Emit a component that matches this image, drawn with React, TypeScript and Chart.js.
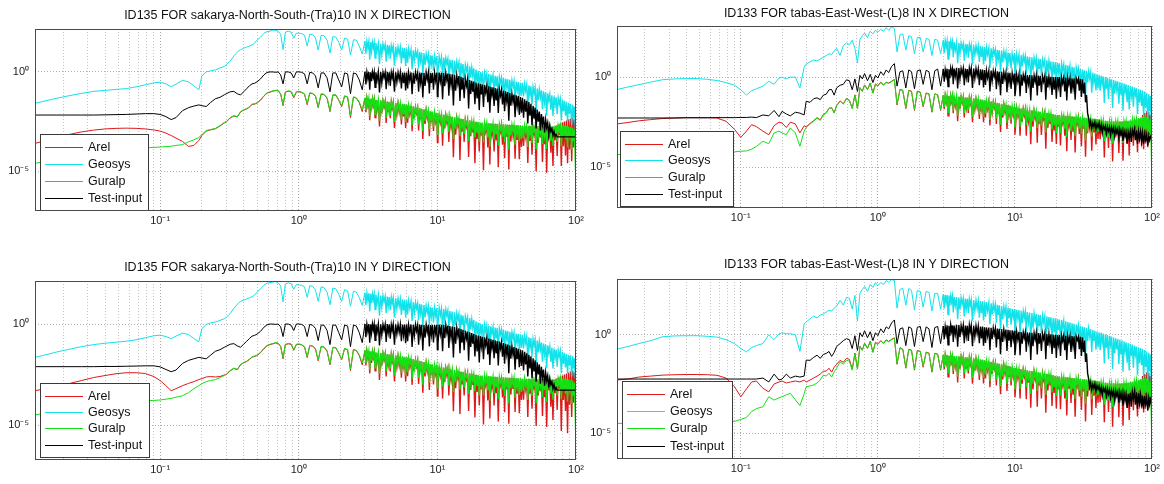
import React, { useEffect, useRef } from 'react';
import { Chart, registerables } from 'chart.js';

Chart.register(...registerables);

// ---------- shared frequency axis (Hz) ----------
const freqHz = [
  // A
  0.0125, 0.015, 0.018, 0.022, 0.027, 0.033, 0.04, 0.048, 0.057, 0.067, 0.078, 0.09, 0.1, 0.11, 0.12, 0.13, 0.145, 0.16, 0.175, 0.19, 0.2, 0.215, 0.23, 0.25, 0.27, 0.29,
  // B
  0.3, 0.32, 0.34, 0.36, 0.38, 0.4, 0.42, 0.44, 0.46, 0.48, 0.5, 0.53, 0.56, 0.59, 0.62, 0.65, 0.68, 0.71, 0.74, 0.77, 0.8, 0.84, 0.88, 0.92, 0.96, 1.0,
  // C
  1.05, 1.1, 1.15, 1.2, 1.26, 1.32, 1.38, 1.45, 1.52, 1.6, 1.68, 1.76, 1.85, 1.94, 2.04, 2.14, 2.25, 2.36, 2.48, 2.6, 2.73, 2.87,
  // D
  3.0, 3.05, 3.1, 3.15, 3.2, 3.25, 3.3, 3.35, 3.4, 3.45, 3.5, 3.55, 3.6, 3.67, 3.75, 3.82, 3.9, 3.97, 4.05, 4.12,
  4.2, 4.27, 4.35, 4.42, 4.5, 4.57, 4.65, 4.72, 4.8, 4.9, 5.0, 5.1, 5.2, 5.3, 5.4, 5.5, 5.6, 5.7, 5.8, 5.9,
  // E
  6.0, 6.1, 6.2, 6.32, 6.45, 6.57, 6.7, 6.82, 6.95, 7.07, 7.2, 7.32, 7.45, 7.57, 7.7,
  7.85, 8.0, 8.15, 8.3, 8.45, 8.6, 8.75, 8.9, 9.05, 9.2, 9.37, 9.55, 9.72, 9.9, 10.0,
  // F
  10.1, 10.3, 10.5, 10.7, 10.9, 11.1, 11.3, 11.5, 11.7, 11.9, 12.1, 12.3, 12.55, 12.8, 13.05, 13.3, 13.55, 13.8, 14.05, 14.3,
  14.55, 14.8, 15.05, 15.3, 15.6, 15.9, 16.2, 16.5, 16.8, 17.1, 17.4, 17.7, 18.0, 18.3, 18.65, 19.0, 19.35, 19.7, 20.05, 20.4,
  // G
  20.75, 21.1, 21.5, 21.9, 22.3, 22.7, 23.1, 23.5, 23.9, 24.3, 24.75, 25.2, 25.65, 26.1, 26.55, 27.0, 27.5, 28.0, 28.5, 29.0,
  29.5, 30.0, 30.55, 31.1, 31.65, 32.2, 32.75, 33.3, 33.9, 34.5, 35.1, 35.7, 36.35, 37.0, 37.65, 38.3, 39.0, 39.7, 40.4, 41.1,
  // H
  41.85, 42.6, 43.35, 44.1, 44.9, 45.7, 46.5, 47.3, 48.15, 49.0, 49.85, 50.7, 51.6, 52.5, 53.45, 54.4, 55.35, 56.3, 57.3, 58.3,
  59.35, 60.4, 61.45, 62.5, 63.6, 64.7, 65.85, 67.0, 68.2, 69.4, 70.65, 71.9, 73.15, 74.4, 75.7, 77.0, 78.35, 79.7, 81.1, 82.5,
  // I
  84.0, 85.4, 86.9, 88.4, 89.9, 91.5, 93.1, 94.7, 96.1, 97.5, 98.8, 100,
];

// ---------- series: log10 of spectral amplitude, one value per frequency ----------
// sakarya, X direction
const sakXArel = [
  -3.6, -3.45, -3.3, -3.15, -3.02, -2.93, -2.87, -2.84, -2.83, -2.84, -2.87, -2.92, -2.98, -3.08, -3.2, -3.33, -3.5, -3.75, -3.7, -3.45, -3.2, -2.98, -2.92, -2.86, -2.72, -2.57,
  -2.52, -2.32, -2.22, -2.27, -2.02, -1.92, -1.87, -1.77, -1.64, -1.62, -1.57, -1.42, -1.22, -1.07, -1.02, -0.97, -0.94, -0.95, -1.12, -1.7, -1.02, -0.97, -1.0, -1.3, -1.02, -0.99,
  -1.04, -1.12, -1.65, -1.07, -1.1, -1.22, -1.8, -1.12, -1.14, -1.32, -2.0, -1.17, -1.17, -1.42, -1.75, -1.22, -1.27, -2.3, -1.27, -1.32, -1.55, -2.0,
  -1.32, -2.03, -1.34, -1.69, -1.35, -2.43, -1.37, -1.9, -1.38, -1.68, -1.4, -2.3, -1.42, -1.91, -1.43, -2.75, -1.45, -2.07, -1.47, -1.77,
  -1.48, -2.57, -1.5, -2.03, -1.52, -2.33, -1.53, -1.83, -1.55, -2.82, -1.57, -2.15, -1.59, -2.03, -1.6, -2.64, -1.62, -2.24, -1.64, -2.82,
  -1.66, -2.56, -1.69, -2.13, -1.72, -2.99, -1.75, -2.33, -1.78, -2.08, -1.81, -2.95, -1.84, -2.37, -1.87,
  -3.38, -1.9, -2.62, -1.93, -2.33, -1.96, -3.24, -1.99, -2.52, -2.02, -2.97, -2.05, -2.49, -2.08, -3.54,
  -3.12, -2.12, -2.54, -2.14, -3.71, -2.17, -2.85, -2.19, -2.54, -2.22, -3.52, -2.24, -2.8, -2.27, -4.29, -2.29, -3.16, -2.32, -2.7, -2.34,
  -4.43, -2.37, -3.01, -2.39, -3.52, -2.42, -2.76, -2.44, -4.28, -2.46, -3.24, -2.48, -3.04, -2.5, -4.6, -2.52, -3.38, -2.54, -4.01, -2.57,
  -3.2, -2.57, -4.95, -2.58, -2.99, -2.59, -3.8, -2.6, -4.66, -2.61, -3.16, -2.62, -4.01, -2.62, -3.45, -2.63, -4.8, -2.64, -3.0, -2.65,
  -3.66, -2.65, -4.34, -2.66, -3.26, -2.67, -4.91, -2.67, -3.5, -2.68, -3.19, -2.69, -4.37, -2.7, -3.43, -2.7, -4.4, -2.71, -3.78, -2.72,
  -3.73, -2.72, -3.23, -2.73, -4.58, -2.72, -3.47, -2.74, -4.17, -2.73, -3.09, -2.74, -5.0, -2.75, -3.56, -2.74, -3.3, -2.76, -4.53, -2.75,
  -3.64, -2.76, -5.08, -2.77, -3.26, -2.76, -4.07, -2.77, -4.73, -2.76, -3.44, -2.7, -4.23, -2.65, -3.18, -2.6, -4.74, -2.55, -3.74, -2.5,
  -4.2, -2.45, -4.6, -2.4, -3.9, -2.35, -4.5, -2.3, -3.8, -2.4, -3.4, -2.9,
];
const sakXGeosys = [
  -1.58, -1.45, -1.32, -1.2, -1.08, -0.98, -0.93, -0.88, -0.84, -0.75, -0.65, -0.55, -0.52, -0.6, -0.74, -0.62, -0.42, -0.5, -0.7, -0.9, -0.2, 0.0, 0.05, 0.1, 0.2, 0.27,
  0.35, 0.55, 0.8, 1.0, 1.12, 1.19, 1.25, 1.3, 1.36, 1.45, 1.6, 1.75, 1.94, 2.03, 2.05, 2.1, 2.1, 2.05, 1.9, 1.12, 2.0, 2.05, 2.0, 1.7, 1.95, 1.95,
  1.93, 1.85, 1.3, 1.9, 1.88, 1.7, 1.1, 1.85, 1.82, 1.6, 0.95, 1.78, 1.75, 1.5, 1.1, 1.7, 1.65, 0.85, 1.62, 1.6, 1.3, 0.9,
  1.55, 0.92, 1.54, 1.22, 1.52, 0.62, 1.5, 1.05, 1.49, 1.22, 1.47, 0.7, 1.45, 1.04, 1.43, 0.39, 1.42, 0.88, 1.4, 1.13,
  1.38, 0.52, 1.36, 0.91, 1.34, 0.66, 1.32, 1.05, 1.3, 0.31, 1.28, 0.78, 1.26, 0.9, 1.24, 0.43, 1.22, 0.68, 1.2, 0.3,
  1.18, 0.46, 1.15, 0.79, 1.12, 0.13, 1.09, 0.59, 1.06, 0.79, 1.03, 0.17, 1.0, 0.55, 0.97,
  -0.16, 0.94, 0.35, 0.91, 0.59, 0.88, -0.07, 0.85, 0.4, 0.82, 0.05, 0.8, 0.44, 0.78, -0.3,
  0.01, 0.78, 0.41, 0.75, -0.3, 0.72, 0.19, 0.7, 0.4, 0.66, -0.23, 0.62, 0.17, 0.6, -0.63, 0.56, -0.08, 0.52, 0.18, 0.48,
  -0.49, 0.45, -0.07, 0.4, -0.41, 0.36, 0.06, 0.32, -0.82, 0.28, -0.29, 0.22, -0.2, 0.18, -0.73, 0.12, -0.54, 0.06, -1.02, 0.0,
  -0.45, -0.02, -0.99, -0.05, -0.38, -0.08, -0.78, -0.1, -1.23, -0.13, -0.5, -0.16, -0.96, -0.19, -0.73, -0.22, -1.27, -0.25, -0.54, -0.28,
  -0.91, -0.31, -1.19, -0.34, -0.75, -0.37, -1.59, -0.4, -0.94, -0.43, -0.76, -0.46, -1.43, -0.49, -0.94, -0.51, -1.3, -0.53, -1.19, -0.55,
  -1.23, -0.6, -0.96, -0.64, -1.76, -0.68, -1.17, -0.72, -1.62, -0.76, -1.07, -0.8, -2.01, -0.84, -1.42, -0.88, -1.29, -0.93, -1.88, -0.98,
  -1.53, -1.03, -2.21, -1.08, -1.45, -1.13, -1.9, -1.18, -2.22, -1.23, -1.69, -1.28, -2.13, -1.32, -1.63, -1.36, -2.44, -1.4, -1.99, -1.45,
  -2.2, -1.5, -2.5, -1.55, -2.1, -1.6, -2.7, -1.65, -2.3, -1.75, -2.8, -3.1,
];
const sakXGuralp = [
  -4.6, -4.5, -4.4, -4.3, -4.2, -4.1, -4.0, -3.95, -3.9, -3.85, -3.82, -3.8, -3.78, -3.76, -3.74, -3.7, -3.66, -3.52, -3.42, -3.3, -3.15, -2.95, -2.9, -2.85, -2.7, -2.55,
  -2.5, -2.3, -2.2, -2.25, -2.0, -1.9, -1.85, -1.75, -1.62, -1.6, -1.55, -1.4, -1.2, -1.05, -1.0, -0.95, -0.92, -0.93, -1.1, -1.65, -1.0, -0.95, -0.98, -1.25, -1.0, -0.97,
  -1.02, -1.1, -1.6, -1.05, -1.08, -1.2, -1.75, -1.1, -1.12, -1.3, -1.95, -1.15, -1.15, -1.4, -1.7, -1.2, -1.25, -2.2, -1.25, -1.3, -1.5, -1.9,
  -1.3, -1.93, -1.32, -1.64, -1.33, -2.23, -1.35, -1.8, -1.36, -1.63, -1.38, -2.15, -1.4, -1.81, -1.41, -2.45, -1.43, -1.97, -1.45, -1.72,
  -1.46, -2.32, -1.48, -1.93, -1.5, -2.18, -1.51, -1.78, -1.53, -2.52, -1.55, -2.05, -1.57, -1.93, -1.58, -2.39, -1.6, -2.14, -1.62, -2.52,
  -1.64, -2.36, -1.67, -2.03, -1.7, -2.69, -1.73, -2.23, -1.76, -2.03, -1.79, -2.65, -1.82, -2.27, -1.85,
  -2.98, -1.88, -2.47, -1.91, -2.23, -1.94, -2.89, -1.97, -2.42, -2.0, -2.77, -2.03, -2.39, -2.06, -3.14,
  -2.82, -2.1, -2.44, -2.12, -3.11, -2.15, -2.65, -2.17, -2.44, -2.2, -3.02, -2.22, -2.65, -2.25, -3.39, -2.27, -2.86, -2.3, -2.6, -2.32,
  -3.23, -2.35, -2.81, -2.37, -3.12, -2.4, -2.66, -2.42, -3.48, -2.44, -2.94, -2.46, -2.84, -2.48, -3.3, -2.5, -3.08, -2.52, -3.51, -2.55,
  -3.0, -2.55, -3.55, -2.56, -2.89, -2.57, -3.3, -2.58, -3.76, -2.59, -2.96, -2.6, -3.41, -2.6, -3.15, -2.61, -3.7, -2.62, -2.9, -2.63,
  -3.26, -2.63, -3.54, -2.64, -3.06, -2.65, -3.91, -2.65, -3.2, -2.66, -2.99, -2.67, -3.67, -2.68, -3.13, -2.68, -3.5, -2.69, -3.38, -2.7,
  -3.33, -2.7, -3.03, -2.71, -3.78, -2.7, -3.17, -2.72, -3.57, -2.71, -2.99, -2.72, -3.9, -2.73, -3.26, -2.72, -3.1, -2.74, -3.63, -2.73,
  -3.24, -2.74, -3.88, -2.75, -3.06, -2.74, -3.47, -2.75, -3.73, -2.74, -3.14, -2.73, -3.53, -2.72, -2.98, -2.71, -3.74, -2.7, -3.24, -2.7,
  -3.4, -2.72, -3.8, -2.75, -3.2, -2.78, -3.9, -2.8, -3.5, -2.9, -4.4, -5.7,
];
const sakXTest = [
  -2.17, -2.17, -2.17, -2.17, -2.17, -2.17, -2.16, -2.15, -2.14, -2.12, -2.1, -2.1, -2.14, -2.25, -2.4, -2.3, -1.95, -1.8, -1.72, -1.66, -1.7, -1.74, -1.55, -1.35, -1.28, -1.15,
  -1.1, -1.0, -0.98, -1.1, -1.16, -1.0, -0.85, -0.7, -0.6, -0.57, -0.5, -0.35, -0.15, -0.03, 0.0, 0.0, -0.02, 0.0, -0.15, -0.6, 0.0, 0.0, -0.05, -0.3, 0.0, 0.0,
  -0.02, -0.1, -0.6, -0.02, -0.05, -0.2, -0.8, -0.05, -0.05, -0.3, -1.0, -0.05, -0.05, -0.4, -0.75, -0.05, -0.1, -1.1, -0.05, -0.1, -0.4, -0.9,
  0.0, -0.63, -0.01, -0.33, 0.0, -0.9, -0.02, -0.47, 0.0, -0.27, -0.01, -0.78, -0.02, -0.43, 0.0, -1.04, -0.01, -0.55, -0.02, -0.29,
  -0.01, -0.87, 0.0, -0.45, -0.02, -0.7, -0.03, -0.3, -0.01, -1.0, -0.02, -0.52, -0.03, -0.39, -0.02, -0.83, -0.03, -0.57, -0.03, -0.93,
  -0.03, -0.83, -0.04, -0.44, -0.02, -1.12, -0.04, -0.59, -0.03, -0.33, -0.05, -1.0, -0.03, -0.53, -0.04,
  -1.29, -0.05, -0.7, -0.03, -0.38, -0.04, -1.09, -0.05, -0.55, -0.04, -0.89, -0.05, -0.45, -0.04, -1.24,
  -1.02, -0.03, -0.48, -0.04, -1.37, -0.05, -0.72, -0.06, -0.41, -0.08, -1.2, -0.1, -0.67, -0.12, -1.69, -0.15, -0.95, -0.18, -0.6, -0.21,
  -1.46, -0.25, -0.9, -0.29, -1.32, -0.33, -0.7, -0.37, -1.84, -0.41, -1.11, -0.45, -0.99, -0.49, -1.63, -0.53, -1.34, -0.57, -1.92, -0.6,
  -1.13, -0.63, -1.76, -0.66, -1.04, -0.69, -1.52, -0.72, -2.05, -0.75, -1.18, -0.78, -1.71, -0.81, -1.44, -0.84, -2.07, -0.87, -1.2, -0.9,
  -1.64, -0.94, -1.98, -0.98, -1.47, -1.02, -2.46, -1.06, -1.7, -1.1, -1.49, -1.14, -2.28, -1.18, -1.72, -1.22, -2.16, -1.26, -2.05, -1.3,
  -2.3, -1.38, -2.0, -1.45, -2.6, -1.52, -2.2, -1.6, -2.7, -1.7, -2.35, -1.8, -2.85, -1.9, -2.5, -2.0, -2.95, -2.12, -2.65, -2.25,
  -3.05, -2.4, -2.8, -2.55, -3.15, -2.7, -3.0, -2.85, -3.2, -3.0, -3.25, -3.15, -3.27, -3.27, -3.27, -3.27, -3.27, -3.27, -3.27, -3.27,
  -3.27, -3.27, -3.27, -3.27, -3.27, -3.27, -3.27, -3.27, -3.27, -3.27, -3.27, -3.27,
];

// tabas, X direction
const tabXArel = [
  -2.6, -2.52, -2.43, -2.36, -2.3, -2.27, -2.25, -2.25, -2.25, -2.27, -2.45, -2.9, -3.35, -3.0, -2.64, -2.75, -3.0, -3.2, -2.7, -2.5, -2.55, -2.8, -2.5, -2.6, -3.1, -2.7,
  -2.77, -2.57, -2.42, -2.25, -2.37, -2.08, -1.98, -1.73, -1.7, -1.98, -1.58, -1.32, -1.48, -1.18, -1.28, -1.73, -0.98, -1.73, -0.58, -0.78, -0.43, -0.68, -0.33, -0.88, -0.38, -0.48,
  -0.28, -0.43, -0.28, -0.33, -0.23, -0.13, -1.55, -0.68, -0.73, -1.75, -0.73, -0.78, -1.85, -0.78, -0.83, -1.65, -0.88, -0.93, -1.95, -0.93, -0.98, -1.85,
  -1.02, -1.77, -1.04, -1.4, -1.02, -2.15, -1.06, -1.62, -1.05, -1.37, -1.07, -2.01, -1.09, -1.6, -1.08, -2.45, -1.1, -1.75, -1.12, -1.44,
  -1.11, -2.24, -1.14, -1.7, -1.15, -1.99, -1.17, -1.49, -1.18, -2.51, -1.2, -1.8, -1.22, -1.68, -1.23, -2.32, -1.25, -1.9, -1.27, -2.5,
  -1.3, -2.24, -1.32, -1.78, -1.35, -2.68, -1.37, -1.97, -1.4, -1.72, -1.42, -2.6, -1.45, -2.01, -1.47,
  -3.04, -1.5, -2.25, -1.52, -1.93, -1.55, -2.88, -1.57, -2.13, -1.6, -2.59, -1.64, -2.1, -1.68, -3.2,
  -2.77, -1.72, -2.16, -1.74, -3.26, -1.76, -2.47, -1.78, -2.14, -1.8, -3.25, -1.82, -2.45, -1.84, -3.73, -1.86, -2.76, -1.88, -2.28, -1.9,
  -3.64, -1.92, -2.59, -1.94, -3.21, -1.96, -2.32, -1.98, -3.98, -2.0, -2.81, -2.02, -2.6, -2.04, -3.6, -2.07, -2.98, -2.1, -3.72, -2.12,
  -2.75, -2.12, -3.8, -2.13, -2.55, -2.15, -3.26, -2.16, -4.12, -2.17, -2.72, -2.18, -3.49, -2.2, -3.03, -2.21, -4.18, -2.22, -2.58, -2.23,
  -3.16, -2.25, -3.84, -2.26, -2.86, -2.27, -4.42, -2.28, -3.12, -2.3, -2.81, -2.31, -4.09, -2.32, -3.07, -2.34, -3.74, -2.35, -3.43, -2.37,
  -3.45, -2.4, -2.93, -2.42, -4.46, -2.44, -3.21, -2.45, -3.94, -2.46, -2.84, -2.47, -4.69, -2.47, -3.33, -2.48, -3.04, -2.48, -4.21, -2.48,
  -3.27, -2.47, -4.64, -2.47, -2.97, -2.46, -3.68, -2.44, -4.35, -2.42, -3.11, -2.4, -3.81, -2.37, -2.81, -2.34, -4.17, -2.3, -3.22, -2.27,
  -3.8, -2.1, -4.0, -2.0, -3.6, -1.9, -3.9, -1.95, -3.2, -2.1, -3.0, -2.6,
];
const tabXGeosys = [
  -0.69, -0.55, -0.42, -0.28, -0.14, -0.1, -0.08, -0.08, -0.12, -0.19, -0.3, -0.45, -0.7, -1.0, -0.75, -0.65, -0.5, -0.23, -0.4, -0.05, 0.0, -0.1, 0.0, 0.0, -0.6, 0.55,
  0.72, 0.85, 0.95, 0.9, 1.0, 1.1, 1.2, 1.3, 1.25, 1.45, 1.6, 1.2, 1.75, 1.9, 1.8, 2.05, 1.6, 0.8, 2.1, 2.3, 2.45, 2.2, 2.55, 2.4, 2.6, 2.5,
  2.65, 2.55, 2.75, 2.6, 2.8, 2.7, 1.4, 2.35, 2.4, 1.5, 2.3, 2.25, 1.3, 2.2, 2.2, 1.4, 2.15, 2.1, 1.2, 2.1, 2.05, 1.3,
  2.05, 1.35, 2.03, 1.68, 2.01, 1.01, 2.0, 1.5, 1.98, 1.68, 1.96, 1.11, 1.94, 1.49, 1.92, 0.77, 1.9, 1.3, 1.88, 1.58,
  1.86, 0.91, 1.85, 1.35, 1.83, 1.08, 1.81, 1.51, 1.79, 0.69, 1.77, 1.22, 1.75, 1.35, 1.74, 0.84, 1.72, 1.12, 1.7, 0.7,
  1.68, 0.88, 1.65, 1.25, 1.62, 0.52, 1.6, 1.05, 1.57, 1.27, 1.54, 0.59, 1.52, 1.02, 1.49,
  0.24, 1.46, 0.81, 1.43, 1.08, 1.4, 0.35, 1.37, 0.87, 1.34, 0.49, 1.31, 0.91, 1.28, 0.08,
  0.37, 1.27, 0.85, 1.25, 0.02, 1.22, 0.6, 1.2, 0.88, 1.18, 0.15, 1.15, 0.63, 1.13, -0.3, 1.1, 0.38, 1.08, 0.7, 1.05,
  -0.07, 1.03, 0.45, 1.0, 0.08, 0.98, 0.65, 0.95, -0.37, 0.93, 0.3, 0.9, 0.43, 0.88, -0.15, 0.85, 0.13, 0.83, -0.4, 0.8,
  0.27, 0.77, -0.36, 0.74, 0.36, 0.71, -0.12, 0.68, -0.65, 0.65, 0.22, 0.62, -0.32, 0.58, -0.05, 0.55, -0.68, 0.52, 0.18, 0.48,
  -0.25, 0.45, -0.58, 0.42, -0.07, 0.38, -1.05, 0.35, -0.29, 0.31, -0.07, 0.28, -0.86, 0.24, -0.3, 0.2, -0.74, 0.16, -0.63, 0.12,
  -0.76, 0.08, -0.38, 0.04, -1.44, 0.0, -0.64, -0.04, -1.22, -0.08, -0.48, -0.12, -1.72, -0.16, -0.92, -0.2, -0.72, -0.24, -1.48, -0.28,
  -0.98, -0.32, -1.86, -0.36, -0.82, -0.4, -1.4, -0.44, -1.8, -0.48, -1.06, -0.52, -1.65, -0.57, -0.98, -0.62, -2.04, -0.66, -1.42, -0.7,
  -1.6, -0.75, -2.2, -0.8, -1.7, -0.88, -2.4, -0.95, -1.9, -1.05, -2.55, -1.2,
];
const tabXGuralp = [
  -4.3, -4.3, -4.3, -4.3, -4.3, -4.3, -4.3, -4.3, -4.3, -4.25, -4.2, -4.15, -4.12, -4.1, -4.0, -3.85, -3.56, -3.7, -3.1, -3.0, -3.1, -3.2, -2.82, -3.1, -3.84, -3.0,
  -2.8, -2.6, -2.45, -2.27, -2.4, -2.1, -2.0, -1.75, -1.71, -2.0, -1.6, -1.34, -1.5, -1.2, -1.3, -1.75, -1.0, -1.75, -0.6, -0.8, -0.45, -0.7, -0.35, -0.9, -0.4, -0.5,
  -0.3, -0.45, -0.3, -0.35, -0.25, -0.15, -1.5, -0.7, -0.75, -1.7, -0.75, -0.8, -1.8, -0.8, -0.85, -1.6, -0.9, -0.95, -1.9, -0.95, -1.0, -1.8,
  -1.0, -1.67, -1.02, -1.35, -1.0, -1.95, -1.04, -1.52, -1.03, -1.32, -1.05, -1.86, -1.07, -1.5, -1.06, -2.15, -1.08, -1.65, -1.1, -1.39,
  -1.09, -1.99, -1.12, -1.6, -1.13, -1.84, -1.15, -1.44, -1.16, -2.21, -1.18, -1.7, -1.2, -1.58, -1.21, -2.07, -1.23, -1.8, -1.25, -2.2,
  -1.28, -2.04, -1.3, -1.68, -1.33, -2.38, -1.35, -1.87, -1.38, -1.67, -1.4, -2.3, -1.43, -1.91, -1.45,
  -2.64, -1.48, -2.1, -1.5, -1.83, -1.53, -2.53, -1.55, -2.03, -1.58, -2.39, -1.62, -2.0, -1.66, -2.8,
  -2.47, -1.7, -2.06, -1.72, -2.76, -1.74, -2.27, -1.76, -2.04, -1.78, -2.65, -1.8, -2.25, -1.82, -3.03, -1.84, -2.46, -1.86, -2.18, -1.88,
  -2.84, -1.9, -2.39, -1.92, -2.71, -1.94, -2.22, -1.96, -3.08, -1.98, -2.51, -2.0, -2.4, -2.02, -2.9, -2.05, -2.68, -2.08, -3.12, -2.1,
  -2.55, -2.1, -3.1, -2.11, -2.45, -2.13, -2.86, -2.14, -3.32, -2.15, -2.52, -2.16, -2.99, -2.18, -2.73, -2.19, -3.28, -2.2, -2.48, -2.21,
  -2.86, -2.23, -3.14, -2.24, -2.66, -2.25, -3.52, -2.26, -2.82, -2.28, -2.61, -2.29, -3.29, -2.3, -2.77, -2.32, -3.14, -2.33, -3.03, -2.35,
  -3.05, -2.38, -2.73, -2.4, -3.56, -2.42, -2.91, -2.43, -3.34, -2.44, -2.74, -2.45, -3.69, -2.45, -3.03, -2.46, -2.84, -2.46, -3.41, -2.46,
  -2.97, -2.45, -3.64, -2.45, -2.77, -2.44, -3.18, -2.42, -3.45, -2.4, -2.81, -2.38, -3.21, -2.35, -2.61, -2.32, -3.37, -2.28, -2.82, -2.25,
  -3.0, -2.2, -3.3, -2.18, -2.9, -2.2, -3.4, -2.25, -3.1, -2.35, -3.8, -5.8,
];
const tabXTest = [
  -2.27, -2.27, -2.27, -2.27, -2.27, -2.27, -2.26, -2.26, -2.26, -2.25, -2.25, -2.25, -2.24, -2.24, -2.22, -2.25, -2.1, -2.15, -1.85, -2.2, -1.9, -2.05, -2.15, -1.95, -2.0, -2.1,
  -1.34, -1.4, -1.2, -1.15, -1.25, -1.0, -0.95, -0.7, -0.69, -1.0, -0.6, -0.45, -0.4, -0.15, -0.2, -0.7, -0.1, -0.8, 0.1, -0.1, 0.2, -0.2, 0.15, -0.3, 0.1, -0.05,
  0.3, 0.1, 0.4, 0.25, 0.6, 0.75, -0.5, 0.3, 0.35, -0.6, 0.4, 0.3, -0.65, 0.35, 0.4, -0.4, 0.38, 0.3, -0.7, 0.35, 0.45, -0.5,
  0.45, -0.25, 0.42, 0.07, 0.47, -0.53, 0.44, -0.06, 0.5, 0.2, 0.46, -0.39, 0.48, 0.03, 0.52, -0.63, 0.5, -0.1, 0.47, 0.17,
  0.5, -0.45, 0.48, -0.02, 0.45, -0.3, 0.49, 0.19, 0.5, -0.6, 0.47, -0.08, 0.48, 0.08, 0.45, -0.45, 0.43, -0.17, 0.42, -0.58,
  0.4, -0.44, 0.38, -0.04, 0.36, -0.8, 0.37, -0.21, 0.35, 0.03, 0.33, -0.67, 0.32, -0.21, 0.3,
  -1.01, 0.3, -0.38, 0.28, -0.09, 0.26, -0.84, 0.25, -0.28, 0.24, -0.65, 0.22, -0.2, 0.2, -1.06,
  -0.75, 0.15, -0.26, 0.14, -1.06, 0.14, -0.47, 0.13, -0.18, 0.12, -0.88, 0.12, -0.39, 0.11, -1.3, 0.1, -0.6, 0.1, -0.26, 0.09,
  -1.02, 0.08, -0.48, 0.07, -0.84, 0.06, -0.25, 0.05, -1.26, 0.04, -0.57, 0.03, -0.43, 0.02, -0.99, 0.01, -0.7, 0.0, -1.2, 0.0,
  -0.5, 0.0, -1.1, -0.01, -0.35, -0.02, -0.8, -0.03, -1.3, -0.04, -0.4, -0.05, -0.9, -0.06, -0.6, -0.07, -1.25, -0.08, -0.3, -0.09,
  -0.75, -0.1, -1.1, -0.12, -0.9, -0.3, -1.4, -1.0, -2.0, -2.3, -2.7, -2.45, -2.85, -2.55, -2.75, -2.5, -2.9, -2.6, -2.8, -2.55,
  -2.95, -2.65, -3.1, -2.7, -2.9, -2.72, -3.15, -2.75, -3.0, -2.78, -3.25, -2.8, -3.05, -2.82, -3.3, -2.85, -3.1, -2.88, -3.4, -2.9,
  -3.2, -2.95, -3.55, -3.0, -3.3, -3.05, -3.7, -3.05, -3.4, -3.0, -3.6, -2.95, -3.2, -2.9, -3.5, -2.95, -3.7, -3.0, -3.45, -3.05,
  -3.6, -3.1, -3.7, -3.15, -3.5, -3.2, -3.8, -3.25, -3.5, -3.3, -3.4, -3.3,
];

// sakarya, Y direction
const sakYArel = [
  -3.3, -3.2, -3.1, -2.95, -2.8, -2.65, -2.55, -2.46, -2.41, -2.41, -2.45, -2.6, -2.8, -3.05, -3.3, -3.2, -3.05, -2.94, -2.85, -2.75, -2.7, -2.62, -2.6, -2.62, -2.6, -2.52,
  -2.5, -2.32, -2.2, -2.26, -2.02, -1.92, -1.86, -1.76, -1.64, -1.6, -1.56, -1.42, -1.22, -1.08, -1.02, -0.98, -0.94, -0.96, -1.12, -1.72, -1.02, -0.98, -1.0, -1.3, -1.02, -1.0,
  -1.04, -1.14, -1.66, -1.07, -1.1, -1.24, -1.82, -1.12, -1.14, -1.34, -2.02, -1.17, -1.18, -1.44, -1.76, -1.22, -1.28, -2.3, -1.27, -1.32, -1.56, -2.02,
  -1.32, -2.05, -1.34, -1.67, -1.35, -2.45, -1.37, -1.92, -1.38, -1.66, -1.4, -2.32, -1.42, -1.89, -1.43, -2.77, -1.45, -2.05, -1.47, -1.79,
  -1.48, -2.59, -1.5, -2.01, -1.52, -2.35, -1.53, -1.85, -1.55, -2.84, -1.57, -2.13, -1.59, -2.05, -1.6, -2.66, -1.62, -2.22, -1.64, -2.84,
  -1.66, -2.58, -1.69, -2.11, -1.72, -3.01, -1.75, -2.31, -1.78, -2.1, -1.81, -2.97, -1.84, -2.35, -1.87,
  -3.4, -1.9, -2.6, -1.93, -2.35, -1.96, -3.26, -1.99, -2.5, -2.02, -2.99, -2.05, -2.47, -2.08, -3.56,
  -3.14, -2.12, -2.56, -2.14, -3.69, -2.17, -2.87, -2.19, -2.52, -2.22, -3.54, -2.24, -2.78, -2.27, -4.31, -2.29, -3.18, -2.32, -2.68, -2.34,
  -4.45, -2.37, -2.99, -2.39, -3.54, -2.42, -2.74, -2.44, -4.3, -2.46, -3.26, -2.48, -3.02, -2.5, -4.62, -2.52, -3.36, -2.54, -4.03, -2.57,
  -3.22, -2.57, -4.97, -2.58, -3.01, -2.59, -3.78, -2.6, -4.68, -2.61, -3.14, -2.62, -4.03, -2.62, -3.43, -2.63, -4.82, -2.64, -3.02, -2.65,
  -3.64, -2.65, -4.36, -2.66, -3.24, -2.67, -4.93, -2.67, -3.48, -2.68, -3.21, -2.69, -4.35, -2.7, -3.45, -2.7, -4.42, -2.71, -3.76, -2.72,
  -3.75, -2.72, -3.21, -2.73, -4.6, -2.72, -3.45, -2.74, -4.19, -2.73, -3.11, -2.74, -5.05, -2.75, -3.54, -2.74, -3.32, -2.76, -4.55, -2.75,
  -3.62, -2.76, -5.1, -2.77, -3.28, -2.76, -4.09, -2.77, -4.75, -2.76, -3.42, -2.7, -4.25, -2.65, -3.2, -2.6, -5.3, -2.55, -3.76, -2.5,
  -4.3, -2.45, -5.4, -2.4, -4.0, -2.35, -4.6, -2.3, -3.9, -2.4, -3.4, -2.8,
];
const sakYGeosys = [
  -1.65, -1.52, -1.38, -1.25, -1.12, -1.02, -0.95, -0.9, -0.85, -0.78, -0.68, -0.58, -0.55, -0.62, -0.72, -0.6, -0.45, -0.52, -0.72, -0.88, -0.22, -0.02, 0.05, 0.1, 0.18, 0.26,
  0.33, 0.52, 0.78, 0.98, 1.12, 1.18, 1.24, 1.3, 1.35, 1.44, 1.58, 1.74, 1.92, 2.02, 2.05, 2.08, 2.1, 2.04, 1.88, 1.1, 1.98, 2.04, 2.0, 1.72, 1.95, 1.93,
  1.92, 1.84, 1.32, 1.9, 1.86, 1.68, 1.12, 1.84, 1.8, 1.58, 0.95, 1.78, 1.74, 1.48, 1.12, 1.7, 1.64, 0.88, 1.62, 1.58, 1.32, 0.92,
  1.55, 0.94, 1.53, 1.2, 1.52, 0.64, 1.5, 1.03, 1.48, 1.2, 1.47, 0.72, 1.45, 1.02, 1.43, 0.41, 1.41, 0.86, 1.4, 1.11,
  1.38, 0.54, 1.36, 0.89, 1.34, 0.68, 1.32, 1.03, 1.3, 0.33, 1.28, 0.76, 1.26, 0.88, 1.24, 0.45, 1.22, 0.66, 1.2, 0.32,
  1.18, 0.48, 1.15, 0.77, 1.12, 0.15, 1.09, 0.57, 1.06, 0.77, 1.03, 0.19, 1.0, 0.53, 0.97,
  -0.14, 0.94, 0.33, 0.91, 0.57, 0.88, -0.05, 0.85, 0.38, 0.82, 0.07, 0.8, 0.42, 0.79, -0.28,
  0.03, 0.8, 0.43, 0.77, -0.28, 0.74, 0.21, 0.72, 0.42, 0.68, -0.21, 0.64, 0.19, 0.62, -0.61, 0.58, -0.06, 0.54, 0.2, 0.5,
  -0.47, 0.47, -0.05, 0.42, -0.39, 0.38, 0.08, 0.34, -0.8, 0.3, -0.27, 0.24, -0.18, 0.2, -0.71, 0.14, -0.52, 0.08, -1.0, 0.02,
  -0.43, 0.0, -0.97, -0.03, -0.36, -0.06, -0.76, -0.08, -1.21, -0.11, -0.48, -0.14, -0.94, -0.17, -0.71, -0.2, -1.25, -0.23, -0.52, -0.26,
  -0.89, -0.29, -1.17, -0.32, -0.73, -0.35, -1.57, -0.38, -0.92, -0.41, -0.74, -0.44, -1.41, -0.47, -0.92, -0.49, -1.28, -0.51, -1.17, -0.53,
  -1.21, -0.58, -0.94, -0.62, -1.74, -0.66, -1.15, -0.7, -1.6, -0.74, -1.05, -0.78, -1.99, -0.82, -1.4, -0.86, -1.27, -0.91, -1.86, -0.96,
  -1.51, -1.01, -2.19, -1.06, -1.43, -1.11, -1.88, -1.16, -2.2, -1.21, -1.67, -1.26, -2.11, -1.3, -1.61, -1.34, -2.42, -1.38, -1.97, -1.43,
  -2.15, -1.48, -2.45, -1.52, -2.05, -1.55, -2.6, -1.6, -2.2, -1.7, -2.7, -2.3,
];
const sakYGuralp = [
  -4.5, -4.4, -4.3, -4.2, -4.1, -4.0, -3.95, -3.9, -3.85, -3.82, -3.8, -3.78, -3.76, -3.72, -3.68, -3.62, -3.55, -3.4, -3.2, -3.05, -2.95, -2.85, -2.8, -2.75, -2.65, -2.55,
  -2.48, -2.3, -2.18, -2.24, -2.0, -1.9, -1.84, -1.74, -1.62, -1.58, -1.54, -1.4, -1.2, -1.06, -1.0, -0.96, -0.92, -0.94, -1.1, -1.68, -1.0, -0.96, -0.98, -1.26, -1.0, -0.98,
  -1.02, -1.12, -1.62, -1.05, -1.08, -1.22, -1.78, -1.1, -1.12, -1.32, -1.98, -1.15, -1.16, -1.42, -1.72, -1.2, -1.26, -2.22, -1.25, -1.3, -1.52, -1.92,
  -1.3, -1.95, -1.32, -1.62, -1.33, -2.25, -1.35, -1.82, -1.36, -1.61, -1.38, -2.17, -1.4, -1.79, -1.41, -2.47, -1.43, -1.95, -1.45, -1.74,
  -1.46, -2.34, -1.48, -1.91, -1.5, -2.2, -1.51, -1.8, -1.53, -2.54, -1.55, -2.03, -1.57, -1.95, -1.58, -2.41, -1.6, -2.12, -1.62, -2.54,
  -1.64, -2.38, -1.67, -2.01, -1.7, -2.71, -1.73, -2.21, -1.76, -2.05, -1.79, -2.67, -1.82, -2.25, -1.85,
  -3.0, -1.88, -2.45, -1.91, -2.25, -1.94, -2.91, -1.97, -2.4, -2.0, -2.79, -2.03, -2.37, -2.06, -3.16,
  -2.8, -2.1, -2.46, -2.12, -3.09, -2.15, -2.67, -2.17, -2.42, -2.2, -3.04, -2.22, -2.63, -2.25, -3.37, -2.27, -2.88, -2.3, -2.58, -2.32,
  -3.25, -2.35, -2.79, -2.37, -3.14, -2.4, -2.64, -2.42, -3.46, -2.44, -2.96, -2.46, -2.82, -2.48, -3.32, -2.5, -3.06, -2.52, -3.53, -2.55,
  -3.02, -2.55, -3.53, -2.56, -2.91, -2.57, -3.28, -2.58, -3.78, -2.59, -2.94, -2.6, -3.43, -2.6, -3.13, -2.61, -3.72, -2.62, -2.92, -2.63,
  -3.24, -2.63, -3.56, -2.64, -3.04, -2.65, -3.93, -2.65, -3.18, -2.66, -3.01, -2.67, -3.65, -2.68, -3.15, -2.68, -3.52, -2.69, -3.36, -2.7,
  -3.31, -2.7, -3.05, -2.71, -3.76, -2.7, -3.19, -2.72, -3.55, -2.71, -3.01, -2.72, -3.92, -2.73, -3.24, -2.72, -3.12, -2.74, -3.61, -2.73,
  -3.26, -2.74, -3.86, -2.75, -3.08, -2.74, -3.45, -2.75, -3.75, -2.74, -3.12, -2.73, -3.55, -2.72, -3.0, -2.71, -3.72, -2.7, -3.26, -2.7,
  -3.45, -2.72, -3.85, -2.75, -3.25, -2.78, -3.95, -2.8, -3.55, -2.9, -4.5, -5.9,
];
const sakYTest = [
  -2.11, -2.11, -2.11, -2.11, -2.11, -2.11, -2.1, -2.1, -2.09, -2.08, -2.07, -2.07, -2.12, -2.25, -2.36, -2.28, -1.95, -1.8, -1.72, -1.65, -1.68, -1.72, -1.55, -1.35, -1.27, -1.15,
  -1.1, -1.0, -0.97, -1.08, -1.15, -1.0, -0.86, -0.72, -0.6, -0.56, -0.5, -0.36, -0.16, -0.04, 0.0, 0.0, -0.02, 0.0, -0.14, -0.62, 0.0, 0.0, -0.06, -0.32, 0.0, 0.0,
  -0.02, -0.12, -0.62, -0.02, -0.06, -0.22, -0.82, -0.05, -0.06, -0.32, -1.02, -0.05, -0.06, -0.42, -0.78, -0.05, -0.1, -1.12, -0.05, -0.1, -0.42, -0.92,
  0.0, -0.65, -0.01, -0.35, 0.0, -0.92, -0.02, -0.45, 0.0, -0.29, -0.01, -0.8, -0.02, -0.41, 0.0, -1.06, -0.01, -0.53, -0.02, -0.31,
  -0.01, -0.89, 0.0, -0.43, -0.02, -0.72, -0.03, -0.32, -0.01, -1.02, -0.02, -0.5, -0.03, -0.41, -0.02, -0.85, -0.03, -0.55, -0.03, -0.95,
  -0.03, -0.85, -0.04, -0.42, -0.02, -1.14, -0.04, -0.57, -0.03, -0.35, -0.05, -1.02, -0.03, -0.51, -0.04,
  -1.31, -0.05, -0.68, -0.03, -0.4, -0.04, -1.11, -0.05, -0.53, -0.04, -0.91, -0.05, -0.47, -0.04, -1.26,
  -1.0, -0.03, -0.5, -0.04, -1.35, -0.05, -0.7, -0.06, -0.43, -0.08, -1.18, -0.1, -0.69, -0.12, -1.66, -0.15, -0.97, -0.18, -0.58, -0.21,
  -1.44, -0.25, -0.92, -0.29, -1.3, -0.33, -0.72, -0.37, -1.82, -0.41, -1.13, -0.45, -0.97, -0.49, -1.61, -0.53, -1.36, -0.57, -1.9, -0.6,
  -1.11, -0.63, -1.74, -0.66, -1.06, -0.69, -1.5, -0.72, -2.03, -0.75, -1.2, -0.78, -1.69, -0.81, -1.46, -0.84, -2.05, -0.87, -1.22, -0.9,
  -1.62, -0.94, -1.96, -0.98, -1.49, -1.02, -2.44, -1.06, -1.72, -1.1, -1.51, -1.14, -2.26, -1.18, -1.74, -1.22, -2.14, -1.26, -2.07, -1.3,
  -2.3, -1.38, -2.0, -1.45, -2.6, -1.52, -2.2, -1.6, -2.7, -1.7, -2.35, -1.8, -2.85, -1.9, -2.5, -2.0, -2.95, -2.12, -2.65, -2.25,
  -3.05, -2.4, -2.8, -2.55, -3.15, -2.7, -3.0, -2.85, -3.2, -3.0, -3.25, -3.15, -3.27, -3.27, -3.27, -3.27, -3.27, -3.27, -3.27, -3.27,
  -3.27, -3.27, -3.27, -3.27, -3.27, -3.27, -3.27, -3.27, -3.27, -3.27, -3.27, -3.27,
];

// tabas, Y direction
const tabYArel = [
  -2.3, -2.25, -2.15, -2.1, -2.05, -2.03, -2.02, -2.02, -2.03, -2.06, -2.2, -2.64, -3.15, -2.75, -2.4, -2.35, -2.72, -2.9, -2.5, -2.4, -2.35, -2.45, -2.4, -2.35, -2.4, -2.3,
  -2.4, -2.3, -2.2, -2.1, -2.0, -1.85, -1.85, -1.7, -1.9, -1.65, -1.5, -1.3, -1.4, -1.2, -1.25, -1.75, -0.93, -1.73, -0.58, -0.78, -0.43, -0.68, -0.33, -0.88, -0.38, -0.48,
  -0.3, -0.43, -0.26, -0.34, -0.23, -0.16, -1.5, -0.66, -0.73, -1.7, -0.74, -0.78, -1.8, -0.8, -0.84, -1.65, -0.88, -0.93, -1.9, -0.94, -0.98, -1.8,
  -1.04, -1.75, -1.06, -1.42, -1.04, -2.13, -1.08, -1.6, -1.07, -1.39, -1.09, -1.99, -1.11, -1.62, -1.1, -2.43, -1.12, -1.73, -1.14, -1.46,
  -1.13, -2.22, -1.16, -1.72, -1.17, -1.97, -1.19, -1.51, -1.2, -2.49, -1.22, -1.82, -1.24, -1.7, -1.25, -2.3, -1.27, -1.88, -1.28, -2.48,
  -1.32, -2.22, -1.34, -1.8, -1.37, -2.66, -1.39, -1.99, -1.42, -1.74, -1.44, -2.58, -1.47, -2.03, -1.49,
  -3.02, -1.52, -2.27, -1.54, -1.95, -1.57, -2.86, -1.59, -2.15, -1.62, -2.57, -1.65, -2.12, -1.69, -3.18,
  -2.75, -1.72, -2.18, -1.74, -3.24, -1.76, -2.49, -1.78, -2.12, -1.8, -3.27, -1.82, -2.43, -1.84, -3.71, -1.86, -2.78, -1.88, -2.26, -1.9,
  -3.66, -1.92, -2.57, -1.94, -3.23, -1.96, -2.3, -1.98, -3.96, -2.0, -2.83, -2.02, -2.58, -2.04, -3.62, -2.07, -2.96, -2.1, -3.74, -2.12,
  -2.77, -2.14, -3.78, -2.15, -2.57, -2.16, -3.24, -2.17, -4.1, -2.18, -2.74, -2.19, -3.47, -2.21, -3.05, -2.22, -4.16, -2.23, -2.6, -2.24,
  -3.14, -2.26, -3.82, -2.27, -2.88, -2.28, -4.4, -2.29, -3.14, -2.31, -2.83, -2.32, -4.07, -2.33, -3.09, -2.35, -3.72, -2.36, -3.45, -2.38,
  -3.43, -2.42, -2.95, -2.44, -4.44, -2.45, -3.23, -2.46, -3.92, -2.47, -2.86, -2.48, -4.67, -2.48, -3.35, -2.49, -3.06, -2.49, -4.19, -2.49,
  -3.29, -2.48, -4.62, -2.48, -2.99, -2.47, -3.7, -2.45, -4.33, -2.43, -3.13, -2.41, -3.83, -2.38, -2.83, -2.35, -4.15, -2.31, -3.24, -2.28,
  -3.75, -2.1, -3.95, -2.0, -3.55, -1.92, -3.85, -1.95, -3.25, -2.1, -3.0, -2.5,
];
const tabYGeosys = [
  -0.73, -0.6, -0.45, -0.3, -0.1, -0.06, -0.05, -0.05, -0.08, -0.12, -0.25, -0.45, -0.7, -0.87, -0.65, -0.55, -0.45, 0.0, -0.25, 0.05, 0.1, 0.05, 0.05, 0.0, -0.85, 0.55,
  0.65, 0.8, 0.95, 0.85, 1.0, 1.05, 1.15, 1.25, 1.2, 1.35, 1.45, 1.75, 1.5, 1.9, 1.85, 1.3, 2.0, 0.7, 2.1, 2.3, 2.45, 2.2, 2.55, 2.4, 2.65, 2.5,
  2.65, 2.55, 2.75, 2.65, 2.8, 2.75, 1.35, 2.3, 2.35, 1.5, 2.35, 2.25, 1.25, 2.25, 2.2, 1.4, 2.2, 2.15, 1.2, 2.1, 2.1, 1.3,
  2.05, 1.33, 2.03, 1.66, 2.01, 1.03, 1.99, 1.48, 1.97, 1.66, 1.95, 1.13, 1.93, 1.47, 1.91, 0.79, 1.89, 1.28, 1.87, 1.56,
  1.85, 0.93, 1.84, 1.33, 1.82, 1.1, 1.8, 1.49, 1.78, 0.71, 1.76, 1.2, 1.75, 1.33, 1.73, 0.86, 1.71, 1.1, 1.7, 0.72,
  1.69, 0.9, 1.66, 1.23, 1.63, 0.54, 1.6, 1.03, 1.57, 1.25, 1.55, 0.61, 1.52, 1.0, 1.49,
  0.26, 1.46, 0.79, 1.43, 1.06, 1.41, 0.37, 1.38, 0.85, 1.35, 0.51, 1.32, 0.89, 1.29, 0.1,
  0.35, 1.27, 0.83, 1.25, 0.0, 1.22, 0.58, 1.2, 0.86, 1.18, 0.13, 1.15, 0.61, 1.13, -0.32, 1.1, 0.36, 1.08, 0.68, 1.05,
  -0.09, 1.03, 0.43, 1.0, 0.06, 0.98, 0.63, 0.95, -0.39, 0.93, 0.28, 0.9, 0.41, 0.88, -0.17, 0.85, 0.11, 0.83, -0.42, 0.8,
  0.25, 0.77, -0.38, 0.74, 0.34, 0.71, -0.14, 0.68, -0.67, 0.65, 0.2, 0.62, -0.34, 0.58, -0.07, 0.55, -0.7, 0.52, 0.16, 0.48,
  -0.27, 0.45, -0.6, 0.42, -0.09, 0.38, -1.07, 0.35, -0.31, 0.31, -0.09, 0.28, -0.88, 0.24, -0.32, 0.2, -0.76, 0.16, -0.65, 0.12,
  -0.78, 0.1, -0.4, 0.06, -1.46, 0.02, -0.66, -0.02, -1.24, -0.06, -0.5, -0.1, -1.74, -0.14, -0.94, -0.18, -0.74, -0.22, -1.5, -0.26,
  -1.0, -0.3, -1.88, -0.34, -0.84, -0.38, -1.42, -0.42, -1.82, -0.46, -1.08, -0.5, -1.67, -0.55, -1.0, -0.6, -2.06, -0.64, -1.44, -0.68,
  -1.55, -0.72, -2.15, -0.78, -1.65, -0.85, -2.35, -0.92, -1.85, -1.0, -2.5, -1.1,
];
const tabYGuralp = [
  -4.5, -4.5, -4.5, -4.5, -4.5, -4.5, -4.48, -4.46, -4.44, -4.42, -4.41, -4.4, -4.3, -4.2, -3.9, -3.75, -3.66, -3.15, -3.32, -3.2, -3.15, -3.05, -2.98, -3.3, -3.6, -3.0,
  -2.64, -2.6, -2.55, -2.45, -2.3, -2.05, -2.1, -1.95, -2.15, -1.88, -1.7, -1.38, -1.5, -1.3, -1.35, -1.8, -0.96, -1.75, -0.6, -0.8, -0.45, -0.7, -0.35, -0.9, -0.4, -0.5,
  -0.32, -0.45, -0.28, -0.36, -0.25, -0.18, -1.45, -0.68, -0.75, -1.65, -0.76, -0.8, -1.75, -0.82, -0.86, -1.6, -0.9, -0.95, -1.85, -0.96, -1.0, -1.75,
  -1.02, -1.65, -1.04, -1.37, -1.02, -1.93, -1.06, -1.5, -1.05, -1.34, -1.07, -1.84, -1.09, -1.52, -1.08, -2.13, -1.1, -1.63, -1.12, -1.41,
  -1.11, -1.97, -1.14, -1.62, -1.15, -1.82, -1.17, -1.46, -1.18, -2.19, -1.2, -1.72, -1.22, -1.6, -1.23, -2.05, -1.25, -1.78, -1.26, -2.18,
  -1.3, -2.02, -1.32, -1.7, -1.35, -2.36, -1.37, -1.89, -1.4, -1.69, -1.42, -2.28, -1.45, -1.93, -1.47,
  -2.62, -1.5, -2.12, -1.52, -1.85, -1.55, -2.51, -1.57, -2.05, -1.6, -2.37, -1.63, -2.02, -1.67, -2.78,
  -2.45, -1.7, -2.08, -1.72, -2.74, -1.74, -2.29, -1.76, -2.02, -1.78, -2.67, -1.8, -2.23, -1.82, -3.01, -1.84, -2.48, -1.86, -2.16, -1.88,
  -2.86, -1.9, -2.37, -1.92, -2.73, -1.94, -2.2, -1.96, -3.06, -1.98, -2.53, -2.0, -2.38, -2.02, -2.92, -2.05, -2.66, -2.08, -3.1, -2.1,
  -2.57, -2.12, -3.08, -2.13, -2.47, -2.14, -2.84, -2.15, -3.3, -2.16, -2.54, -2.17, -2.97, -2.19, -2.75, -2.2, -3.26, -2.21, -2.5, -2.22,
  -2.84, -2.24, -3.16, -2.25, -2.64, -2.26, -3.5, -2.27, -2.84, -2.29, -2.59, -2.3, -3.27, -2.31, -2.79, -2.33, -3.12, -2.34, -3.05, -2.36,
  -3.03, -2.4, -2.75, -2.42, -3.54, -2.43, -2.93, -2.44, -3.32, -2.45, -2.76, -2.46, -3.67, -2.46, -3.05, -2.47, -2.82, -2.47, -3.43, -2.47,
  -2.95, -2.46, -3.62, -2.46, -2.79, -2.45, -3.16, -2.43, -3.47, -2.41, -2.79, -2.39, -3.23, -2.36, -2.63, -2.33, -3.35, -2.29, -2.84, -2.26,
  -3.05, -2.22, -3.35, -2.2, -2.95, -2.22, -3.45, -2.28, -3.15, -2.38, -3.9, -5.6,
];
const tabYTest = [
  -2.25, -2.25, -2.25, -2.25, -2.25, -2.25, -2.25, -2.25, -2.25, -2.25, -2.25, -2.25, -2.25, -2.25, -2.25, -2.25, -2.2, -2.4, -2.0, -2.3, -2.25, -2.0, -2.2, -2.1, -2.15, -2.1,
  -1.29, -1.3, -1.15, -1.04, -1.2, -1.0, -0.95, -0.85, -1.1, -0.9, -0.6, -0.45, -0.3, -0.2, -0.25, -0.7, -0.05, -0.8, 0.1, -0.1, 0.2, -0.15, 0.15, -0.3, 0.1, -0.05,
  0.3, 0.1, 0.4, 0.3, 0.6, 0.75, -0.45, 0.3, 0.35, -0.55, 0.4, 0.32, -0.6, 0.38, 0.42, -0.35, 0.4, 0.3, -0.65, 0.36, 0.42, -0.45,
  0.44, -0.23, 0.42, 0.05, 0.48, -0.51, 0.45, -0.08, 0.5, 0.18, 0.47, -0.37, 0.47, 0.01, 0.51, -0.61, 0.49, -0.12, 0.47, 0.15,
  0.49, -0.43, 0.47, -0.04, 0.46, -0.32, 0.48, 0.17, 0.48, -0.58, 0.46, -0.1, 0.46, 0.06, 0.44, -0.43, 0.42, -0.19, 0.41, -0.56,
  0.38, -0.42, 0.37, -0.06, 0.36, -0.78, 0.35, -0.23, 0.34, 0.01, 0.32, -0.65, 0.31, -0.23, 0.3,
  -0.99, 0.29, -0.36, 0.27, -0.11, 0.26, -0.82, 0.25, -0.3, 0.23, -0.63, 0.22, -0.22, 0.2, -1.04,
  -0.73, 0.16, -0.24, 0.15, -1.04, 0.14, -0.45, 0.13, -0.16, 0.12, -0.86, 0.12, -0.37, 0.11, -1.28, 0.1, -0.58, 0.1, -0.24, 0.09,
  -1.0, 0.08, -0.46, 0.07, -0.82, 0.06, -0.23, 0.05, -1.24, 0.04, -0.55, 0.03, -0.41, 0.02, -0.97, 0.01, -0.68, 0.0, -1.18, -0.02,
  -0.48, -0.02, -1.08, -0.03, -0.33, -0.04, -0.78, -0.05, -1.28, -0.06, -0.38, -0.06, -0.88, -0.07, -0.58, -0.08, -1.23, -0.09, -0.28, -0.1,
  -0.73, -0.11, -1.08, -0.13, -0.88, -0.3, -1.38, -0.95, -1.95, -2.25, -2.65, -2.42, -2.8, -2.52, -2.72, -2.48, -2.88, -2.58, -2.78, -2.6,
  -2.92, -2.68, -3.08, -2.7, -2.88, -2.72, -3.12, -2.76, -3.02, -2.8, -3.22, -2.82, -3.08, -2.85, -3.35, -2.86, -3.12, -2.9, -3.45, -2.92,
  -3.25, -2.95, -3.6, -2.98, -3.35, -3.02, -3.72, -3.0, -3.45, -2.95, -3.65, -2.9, -3.25, -2.88, -3.55, -2.92, -3.75, -2.98, -3.5, -3.05,
  -3.65, -3.1, -3.75, -3.12, -3.55, -3.18, -3.85, -3.22, -3.55, -3.28, -3.45, -3.3,
];

// ---------- axes ----------
const xTickValues = [
  0.02, 0.03, 0.04, 0.05, 0.06, 0.07, 0.08, 0.09,
  0.1, 0.2, 0.3, 0.4, 0.5, 0.6, 0.7, 0.8, 0.9,
  1, 2, 3, 4, 5, 6, 7, 8, 9,
  10, 20, 30, 40, 50, 60, 70, 80, 90,
  100,
];
const yTickValues = [1e-5, 1];
const xRange = [0.0125, 100];

const seriesNames = ['Arel', 'Geosys', 'Guralp', 'Test-input'];
const seriesColors = ['#e01818', '#12e2ea', '#14e014', '#000000'];

const FONT = '"Liberation Sans", Arial, Helvetica, sans-serif';
const Y_W = 36;
const PAD_R = 36;
const X_H = 22;
const TITLE_PAD_TOP = 4;
const TITLE_LINE = 15;
const NOISE_FROM_HZ = 3;

const SUP: Record<string, string> = {
  '-': '\u207B', '0': '\u2070', '1': '\u00B9', '2': '\u00B2', '3': '\u00B3',
  '4': '\u2074', '5': '\u2075', '6': '\u2076', '7': '\u2077', '8': '\u2078', '9': '\u2079',
};
function decadeLabel(v: number): string {
  const l = Math.log10(v);
  const e = Math.round(l);
  if (Math.abs(l - e) > 1e-6) return '';
  return '10' + String(e).split('').map((c) => SUP[c]).join('');
}

const panels = [
  {
    title: 'ID135 FOR sakarya-North-South-(Tra)10 IN X DIRECTION',
    series: [sakXArel, sakXGeosys, sakXGuralp, sakXTest],
    yExp: [-7.0, 2.16],
    box: { left: 35, top: 29, width: 541, height: 182 },
    titleGap: 6,
    legend: { dx: 5, dy: 1, w: 108, h: 76 },
  },
  {
    title: 'ID133 FOR tabas-East-West-(L)8 IN X DIRECTION',
    series: [tabXArel, tabXGeosys, tabXGuralp, tabXTest],
    yExp: [-7.27, 2.84],
    box: { left: 617, top: 26, width: 535, height: 182 },
    titleGap: 5,
    legend: { dx: 3, dy: 2, w: 113, h: 75 },
  },
  {
    title: 'ID135 FOR sakarya-North-South-(Tra)10 IN Y DIRECTION',
    series: [sakYArel, sakYGeosys, sakYGuralp, sakYTest],
    yExp: [-6.73, 2.13],
    box: { left: 35, top: 281, width: 541, height: 179 },
    titleGap: 6,
    legend: { dx: 5, dy: 3, w: 109, h: 74 },
  },
  {
    title: 'ID133 FOR tabas-East-West-(L)8 IN Y DIRECTION',
    series: [tabYArel, tabYGeosys, tabYGuralp, tabYTest],
    yExp: [-6.31, 2.83],
    box: { left: 617, top: 279, width: 535, height: 180 },
    titleGap: 7,
    legend: { dx: 5, dy: 1, w: 110, h: 77 },
  },
];

const framePlugin = {
  id: 'panelFrame',
  afterDatasetsDraw(chart: any, _args: any, opts: any) {
    const { ctx, chartArea: a } = chart;
    const lg = opts.legend;
    ctx.save();
    const lx = Math.round(a.left + lg.dx);
    const ly = Math.round(a.bottom - lg.dy - lg.h);
    ctx.fillStyle = '#ffffff';
    ctx.fillRect(lx, ly, lg.w, lg.h);
    ctx.strokeStyle = '#3a3a3a';
    ctx.lineWidth = 1;
    ctx.strokeRect(lx + 0.5, ly + 0.5, lg.w, lg.h);
    ctx.font = '12.5px ' + FONT;
    ctx.textBaseline = 'middle';
    ctx.textAlign = 'left';
    const step = (lg.h - 25) / 3;
    chart.data.datasets.forEach((ds: any, i: number) => {
      const y = Math.round(ly + 12.5 + i * step);
      ctx.strokeStyle = ds.borderColor;
      ctx.lineWidth = 1;
      ctx.beginPath();
      ctx.moveTo(lx + 5, y + 0.5);
      ctx.lineTo(lx + 43, y + 0.5);
      ctx.stroke();
      ctx.fillStyle = '#111111';
      ctx.fillText(ds.label, lx + 48, y + 1);
    });
    ctx.strokeStyle = '#4a4a4a';
    ctx.strokeRect(Math.round(a.left) + 0.5, Math.round(a.top) + 0.5, Math.round(a.right - a.left) - 1, Math.round(a.bottom - a.top) - 1);
    ctx.restore();
  },
};

function Panel({ p }: { p: any }) {
  const ref = useRef<HTMLCanvasElement | null>(null);
  const titleH = TITLE_PAD_TOP + TITLE_LINE + p.titleGap;
  const w = p.box.width + Y_W + PAD_R;
  const h = p.box.height + titleH + X_H;
  useEffect(() => {
    if (!ref.current) return;
    const gridColor = (c: any) => {
      const v = c.tick ? c.tick.value : 0;
      return decadeLabel(v) ? '#a4a4a4' : '#c4c4c4';
    };
    const chart = new Chart(ref.current, {
      type: 'line',
      data: {
        datasets: p.series.map((vals: number[], i: number) => ({
          label: seriesNames[i],
          data: freqHz.map((f, j) => ({ x: f, y: Math.pow(10, vals[j]) })),
          borderColor: seriesColors[i],
          backgroundColor: seriesColors[i],
          borderWidth: 1,
          pointRadius: 0,
          tension: 0,
          fill: false,
          order: 4 - i,
          segment: {
            borderWidth: (c: any) => (c.p0.parsed.x >= NOISE_FROM_HZ ? 1.4 : 1),
          },
        })),
      },
      options: {
        responsive: false,
        animation: false,
        events: [],
        layout: { padding: { left: 0, right: PAD_R, top: 0, bottom: 0 } },
        plugins: {
          legend: { display: false },
          tooltip: { enabled: false },
          title: {
            display: true,
            text: p.title,
            color: '#111111',
            font: { family: FONT, size: 12.5, weight: 'normal', lineHeight: TITLE_LINE + 'px' },
            padding: { top: TITLE_PAD_TOP, bottom: p.titleGap },
          },
          panelFrame: { legend: p.legend },
        } as any,
        scales: {
          x: {
            type: 'logarithmic',
            min: xRange[0],
            max: xRange[1],
            bounds: 'data',
            afterBuildTicks: (s: any) => { s.ticks = xTickValues.map((v) => ({ value: v })); },
            afterFit: (s: any) => { s.height = X_H; },
            ticks: {
              autoSkip: false,
              maxRotation: 0,
              minRotation: 0,
              padding: 3,
              color: '#222222',
              font: { family: FONT, size: 11 },
              callback: (v: any) => decadeLabel(Number(v)),
            },
            grid: { color: gridColor, lineWidth: 1, drawTicks: false },
            border: { display: false, dash: [1, 2] },
          },
          y: {
            type: 'logarithmic',
            min: Math.pow(10, p.yExp[0]),
            max: Math.pow(10, p.yExp[1]),
            bounds: 'data',
            afterBuildTicks: (s: any) => { s.ticks = yTickValues.map((v) => ({ value: v })); },
            afterFit: (s: any) => { s.width = Y_W; },
            ticks: {
              autoSkip: false,
              padding: 6,
              color: '#222222',
              font: { family: FONT, size: 11 },
              callback: (v: any) => decadeLabel(Number(v)),
            },
            grid: { color: '#b0b0b0', lineWidth: 1, drawTicks: false },
            border: { display: false, dash: [1, 2] },
          },
        } as any,
      } as any,
      plugins: [framePlugin],
    });
    return () => chart.destroy();
  }, []);
  return (
    <canvas
      ref={ref}
      width={w}
      height={h}
      style={{
        position: 'absolute',
        left: p.box.left - Y_W,
        top: p.box.top - titleH,
        width: w,
        height: h,
      }}
    />
  );
}

export default function App() {
  return (
    <div style={{ position: 'absolute', left: 0, top: 0, width: 1164, height: 484, background: '#ffffff', overflow: 'hidden' }}>
      {panels.map((p, i) => (
        <Panel key={i} p={p} />
      ))}
    </div>
  );
}
